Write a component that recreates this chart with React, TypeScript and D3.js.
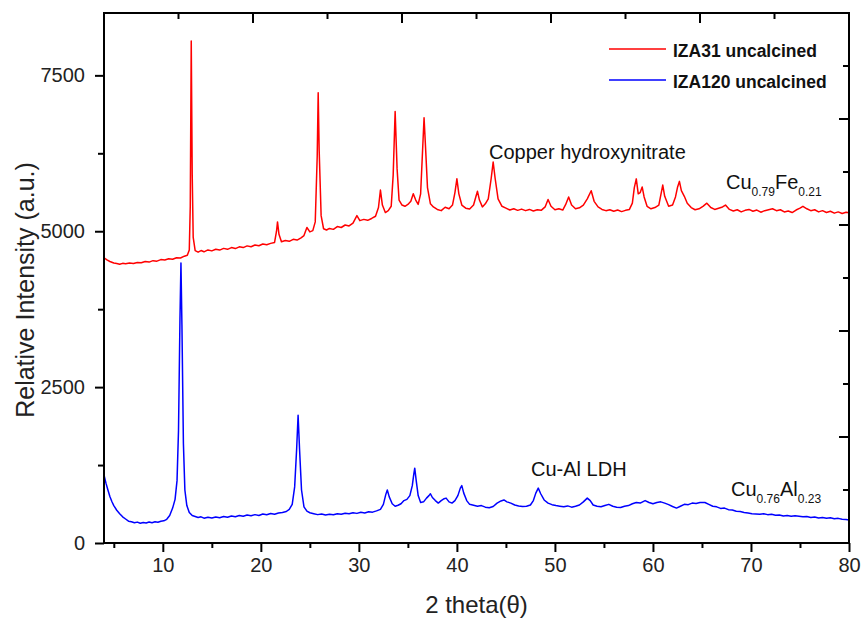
import { useEffect, useRef } from "react";
import * as d3 from "d3";

// XRD patterns: [2 theta, intensity]
const iza31: [number, number][] = [
  [4.0, 4575], [4.3, 4540], [4.6, 4515], [5.0, 4490], [5.3, 4482], [5.6, 4470], [5.9, 4485], [6.2, 4478],
  [6.6, 4490], [7.0, 4482], [7.4, 4500], [7.8, 4495], [8.2, 4515], [8.6, 4505], [9.0, 4528], [9.4, 4520],
  [9.8, 4545], [10.2, 4538], [10.6, 4558], [11.0, 4550], [11.4, 4575], [11.8, 4570], [12.2, 4600], [12.5, 4615],
  [12.7, 4700], [12.8, 5400], [12.9, 8050], [13.0, 5900], [13.1, 4900], [13.3, 4690], [13.6, 4665], [13.9, 4690],
  [14.2, 4670], [14.6, 4700], [15.0, 4685], [15.4, 4712], [15.8, 4698], [16.2, 4725], [16.6, 4710], [17.0, 4738],
  [17.4, 4722], [17.8, 4750], [18.2, 4738], [18.6, 4765], [19.0, 4752], [19.4, 4780], [19.8, 4768], [20.2, 4795],
  [20.6, 4782], [21.0, 4805], [21.4, 4820], [21.6, 5000], [21.7, 5150], [21.85, 4950], [22.1, 4830], [22.5, 4850],
  [22.9, 4838], [23.3, 4870], [23.7, 4858], [24.1, 4895], [24.4, 4930], [24.7, 5060], [25.0, 4990], [25.3, 5010],
  [25.55, 5150], [25.75, 6200], [25.85, 7220], [25.95, 6300], [26.15, 5250], [26.4, 5040], [26.7, 5020], [27.0, 5045],
  [27.4, 5030], [27.8, 5075], [28.2, 5060], [28.6, 5100], [29.0, 5085], [29.4, 5130], [29.8, 5250], [30.1, 5170],
  [30.5, 5190], [30.9, 5175], [31.3, 5205], [31.7, 5240], [32.0, 5380], [32.2, 5660], [32.4, 5420], [32.7, 5300],
  [33.0, 5330], [33.3, 5400], [33.5, 5900], [33.7, 6920], [33.9, 6000], [34.1, 5500], [34.4, 5420], [34.7, 5400],
  [35.0, 5430], [35.3, 5480], [35.55, 5600], [35.8, 5500], [36.05, 5430], [36.3, 5600], [36.5, 6300], [36.65, 6820],
  [36.8, 6350], [37.0, 5700], [37.3, 5440], [37.6, 5390], [38.0, 5350], [38.4, 5330], [38.8, 5385], [39.2, 5360],
  [39.55, 5420], [39.8, 5620], [40.0, 5840], [40.2, 5600], [40.5, 5420], [40.9, 5370], [41.3, 5355], [41.7, 5420],
  [41.95, 5560], [42.1, 5640], [42.3, 5500], [42.6, 5390], [42.9, 5440], [43.2, 5520], [43.5, 5850], [43.7, 6110],
  [43.9, 5850], [44.2, 5520], [44.6, 5400], [45.0, 5370], [45.4, 5340], [45.8, 5360], [46.2, 5335], [46.6, 5355],
  [47.0, 5330], [47.4, 5350], [47.8, 5325], [48.2, 5345], [48.6, 5335], [49.0, 5390], [49.3, 5510], [49.6, 5400],
  [50.0, 5345], [50.4, 5360], [50.8, 5340], [51.1, 5430], [51.4, 5550], [51.7, 5420], [52.1, 5360], [52.5, 5375],
  [52.9, 5420], [53.3, 5520], [53.7, 5650], [54.0, 5480], [54.4, 5390], [54.8, 5350], [55.2, 5330], [55.6, 5345],
  [56.0, 5320], [56.4, 5340], [56.8, 5315], [57.2, 5335], [57.6, 5350], [57.9, 5450], [58.1, 5700], [58.3, 5840],
  [58.5, 5600], [58.7, 5620], [58.9, 5710], [59.1, 5550], [59.4, 5400], [59.8, 5360], [60.2, 5380], [60.6, 5420],
  [60.85, 5620], [61.0, 5740], [61.2, 5560], [61.6, 5400], [62.0, 5420], [62.3, 5550], [62.5, 5700], [62.7, 5800],
  [62.9, 5650], [63.2, 5560], [63.5, 5450], [63.9, 5380], [64.3, 5345], [64.7, 5360], [65.1, 5400], [65.5, 5450],
  [65.9, 5380], [66.3, 5350], [66.7, 5370], [67.1, 5390], [67.4, 5420], [67.8, 5350], [68.2, 5325], [68.6, 5345],
  [69.0, 5310], [69.4, 5335], [69.8, 5350], [70.2, 5320], [70.6, 5340], [71.0, 5305], [71.4, 5330], [71.8, 5345],
  [72.2, 5360], [72.6, 5330], [73.0, 5345], [73.4, 5310], [73.8, 5325], [74.2, 5300], [74.6, 5340], [75.0, 5370],
  [75.3, 5400], [75.7, 5360], [76.1, 5330], [76.5, 5345], [76.9, 5310], [77.3, 5330], [77.7, 5300], [78.1, 5320],
  [78.5, 5290], [78.9, 5310], [79.3, 5285], [79.7, 5305], [80.0, 5295],
];

const iza120: [number, number][] = [
  [4.0, 1090], [4.2, 960], [4.4, 850], [4.6, 745], [4.8, 665], [5.0, 600], [5.3, 525], [5.6, 470],
  [5.9, 420], [6.2, 385], [6.5, 350], [6.8, 340], [7.1, 325], [7.4, 335], [7.7, 318], [8.0, 330],
  [8.3, 322], [8.6, 338], [8.9, 325], [9.2, 340], [9.5, 332], [9.8, 348], [10.1, 355], [10.4, 380],
  [10.7, 440], [11.0, 560], [11.25, 700], [11.45, 1000], [11.6, 1800], [11.75, 3600], [11.85, 4490], [11.95, 3500],
  [12.1, 1600], [12.25, 850], [12.45, 600], [12.7, 490], [13.0, 440], [13.3, 425], [13.6, 410], [13.9, 420],
  [14.2, 398], [14.6, 412], [15.0, 400], [15.4, 418], [15.8, 405], [16.2, 425], [16.6, 412], [17.0, 432],
  [17.4, 420], [17.8, 440], [18.2, 428], [18.6, 448], [19.0, 436], [19.4, 455], [19.8, 442], [20.2, 465],
  [20.6, 452], [21.0, 472], [21.4, 460], [21.8, 480], [22.2, 490], [22.6, 505], [22.9, 540], [23.2, 620],
  [23.45, 900], [23.65, 1500], [23.8, 2050], [23.95, 1500], [24.15, 850], [24.4, 580], [24.7, 510], [25.0, 485],
  [25.4, 470], [25.8, 455], [26.2, 465], [26.6, 448], [27.0, 460], [27.4, 452], [27.8, 470], [28.2, 460],
  [28.6, 478], [29.0, 468], [29.4, 485], [29.8, 475], [30.2, 492], [30.6, 482], [31.0, 500], [31.4, 495],
  [31.8, 515], [32.2, 540], [32.5, 620], [32.75, 780], [32.9, 850], [33.1, 740], [33.4, 630], [33.7, 590],
  [34.0, 605], [34.3, 630], [34.6, 680], [34.9, 700], [35.2, 760], [35.45, 920], [35.6, 1100], [35.7, 1200],
  [35.85, 1000], [36.05, 760], [36.3, 650], [36.6, 660], [36.9, 720], [37.15, 760], [37.3, 790], [37.5, 730],
  [37.8, 680], [38.1, 640], [38.4, 680], [38.7, 710], [38.9, 720], [39.2, 660], [39.5, 640], [39.8, 680],
  [40.1, 760], [40.35, 880], [40.5, 920], [40.7, 800], [41.0, 680], [41.3, 620], [41.7, 605], [42.1, 590],
  [42.5, 600], [42.9, 575], [43.3, 565], [43.7, 585], [44.1, 640], [44.5, 675], [44.8, 690], [45.1, 660],
  [45.5, 640], [45.9, 610], [46.3, 595], [46.7, 585], [47.1, 590], [47.5, 610], [47.8, 680], [48.05, 800],
  [48.3, 880], [48.55, 790], [48.9, 690], [49.3, 640], [49.7, 615], [50.1, 600], [50.5, 590], [50.9, 580],
  [51.3, 595], [51.7, 575], [52.1, 590], [52.5, 610], [52.9, 660], [53.3, 720], [53.6, 680], [53.9, 610],
  [54.3, 590], [54.7, 580], [55.1, 600], [55.5, 620], [55.9, 590], [56.3, 575], [56.7, 570], [57.1, 590],
  [57.5, 600], [57.9, 630], [58.3, 650], [58.7, 640], [59.2, 680], [59.6, 650], [60.0, 630], [60.4, 650],
  [60.8, 660], [61.2, 640], [61.6, 615], [62.0, 585], [62.4, 560], [62.8, 590], [63.2, 620], [63.6, 615],
  [64.0, 640], [64.4, 635], [64.8, 650], [65.3, 650], [65.7, 620], [66.1, 590], [66.5, 580], [66.9, 555],
  [67.3, 560], [67.7, 535], [68.1, 530], [68.5, 510], [68.9, 505], [69.3, 490], [69.7, 480], [70.1, 470],
  [70.5, 465], [70.9, 460], [71.3, 470], [71.7, 455], [72.1, 460], [72.5, 445], [72.9, 450], [73.3, 432],
  [73.7, 440], [74.1, 428], [74.5, 438], [74.9, 430], [75.3, 420], [75.7, 425], [76.1, 410], [76.5, 418],
  [76.9, 402], [77.3, 410], [77.7, 398], [78.1, 405], [78.5, 390], [78.9, 395], [79.3, 380], [79.7, 375],
  [80.0, 370],
];

const xMajor = [10, 20, 30, 40, 50, 60, 70, 80];
const xMinor = [5, 15, 25, 35, 45, 55, 65, 75];
const yMajor = [0, 2500, 5000, 7500];
const yMinor = [1250, 3750, 6250];
// opposite (top / right) axes carry their own 0..1 scale, no labels
const frameTicks = [0.1, 0.2, 0.3, 0.4, 0.5, 0.6, 0.7, 0.8, 0.9];

const series = [
  { name: "IZA31 uncalcined", data: iza31, color: "#ff0000" },
  { name: "IZA120 uncalcined", data: iza120, color: "#0000ff" },
];

const FONT = "'Liberation Sans', Arial, sans-serif";

export default function App() {
  const svgRef = useRef<SVGSVGElement>(null);

  useEffect(() => {
    const width = 862;
    const height = 624;
    const margin = { top: 13, right: 13, bottom: 81, left: 104 };
    const x0 = margin.left;
    const x1 = width - margin.right;
    const y0 = height - margin.bottom;
    const y1 = margin.top;

    const x = d3.scaleLinear().domain([4, 80]).range([x0, x1]);
    const y = d3.scaleLinear().domain([0, 8500]).range([y0, y1]);
    const tx = d3.scaleLinear().domain([0, 1]).range([x0, x1]);
    const ry = d3.scaleLinear().domain([0, 1]).range([y0, y1]);

    const svg = d3.select(svgRef.current);
    svg.selectAll("*").remove();

    // curves
    const line = d3
      .line<[number, number]>()
      .x((d) => x(d[0]))
      .y((d) => y(d[1]));

    series.forEach((s) => {
      svg
        .append("path")
        .datum(s.data)
        .attr("fill", "none")
        .attr("stroke", s.color)
        .attr("stroke-width", 1.5)
        .attr("stroke-linejoin", "round")
        .attr("d", line);
    });

    // bottom axis
    const bottom = svg.append("g").attr("transform", `translate(0,${y0})`);
    bottom.call(
      d3.axisBottom(x).tickValues(xMinor).tickSize(5).tickSizeOuter(0).tickFormat(() => "")
    );
    bottom
      .append("g")
      .call(
        d3.axisBottom(x).tickValues(xMajor).tickSize(9).tickSizeOuter(0).tickPadding(6).tickFormat(d3.format("d"))
      );

    // left axis
    const left = svg.append("g").attr("transform", `translate(${x0},0)`);
    left.call(d3.axisLeft(y).tickValues(yMinor).tickSize(6).tickSizeOuter(0).tickFormat(() => ""));
    left
      .append("g")
      .call(
        d3.axisLeft(y).tickValues(yMajor).tickSize(9).tickSizeOuter(0).tickPadding(10).tickFormat(d3.format("d"))
      );

    svg.selectAll("path.domain").remove();
    svg.selectAll(".tick line").attr("stroke", "#000").attr("stroke-width", 2);
    svg
      .selectAll(".tick text")
      .attr("fill", "#222")
      .attr("font-size", 20)
      .attr("font-family", FONT);

    // top / right inward ticks
    svg
      .append("g")
      .selectAll("line")
      .data(frameTicks)
      .join("line")
      .attr("x1", (d) => tx(d))
      .attr("x2", (d) => tx(d))
      .attr("y1", y1)
      .attr("y2", (d, i) => y1 + (i % 2 === 1 ? 10 : 6))
      .attr("stroke", "#000")
      .attr("stroke-width", 2);
    svg
      .append("g")
      .selectAll("line")
      .data(frameTicks)
      .join("line")
      .attr("y1", (d) => ry(d))
      .attr("y2", (d) => ry(d))
      .attr("x1", x1)
      .attr("x2", (d, i) => x1 - (i % 2 === 1 ? 10 : 6))
      .attr("stroke", "#000")
      .attr("stroke-width", 2);

    // frame
    svg
      .append("rect")
      .attr("x", x0)
      .attr("y", y1)
      .attr("width", x1 - x0)
      .attr("height", y0 - y1)
      .attr("fill", "none")
      .attr("stroke", "#000")
      .attr("stroke-width", 2);

    // axis titles
    svg
      .append("text")
      .attr("x", (x0 + x1) / 2)
      .attr("y", 613)
      .attr("text-anchor", "middle")
      .attr("font-family", FONT)
      .attr("font-size", 24)
      .attr("fill", "#222")
      .text("2 theta(θ)");
    svg
      .append("text")
      .attr("transform", `translate(34,${290}) rotate(-90)`)
      .attr("text-anchor", "middle")
      .attr("font-family", FONT)
      .attr("font-size", 25)
      .attr("fill", "#222")
      .text("Relative Intensity (a.u.)");

    // legend
    const legend = svg.append("g");
    series.forEach((s, i) => {
      const ly = 49 + i * 31;
      legend
        .append("line")
        .attr("x1", 609)
        .attr("x2", 666)
        .attr("y1", ly)
        .attr("y2", ly)
        .attr("stroke", s.color)
        .attr("stroke-width", 1.3);
      legend
        .append("text")
        .attr("x", 673)
        .attr("y", ly + 8)
        .attr("font-family", FONT)
        .attr("font-weight", "bold")
        .attr("font-size", 17.5)
        .attr("fill", "#111")
        .text(s.name);
    });

    // annotations
    const note = (tx0: number, ty: number, parts: [string, boolean][]) => {
      const t = svg
        .append("text")
        .attr("x", tx0)
        .attr("y", ty)
        .attr("font-family", FONT)
        .attr("fill", "#111");
      let sub = false;
      parts.forEach(([str, isSub]) => {
        const sp = t.append("tspan").attr("font-size", isSub ? 12 : 20).text(str);
        if (isSub !== sub) sp.attr("dy", isSub ? 7 : -7);
        sub = isSub;
      });
    };
    note(489, 159, [["Copper hydroxynitrate", false]]);
    note(726, 189, [["Cu", false], ["0.79", true], ["Fe", false], ["0.21", true]]);
    note(531, 476, [["Cu-Al LDH", false]]);
    note(731, 496, [["Cu", false], ["0.76", true], ["Al", false], ["0.23", true]]);
  }, []);

  return (
    <div style={{ position: "fixed", left: 0, top: 0 }}>
      <svg ref={svgRef} width={862} height={624} style={{ display: "block", background: "#fff" }} />
    </div>
  );
}
